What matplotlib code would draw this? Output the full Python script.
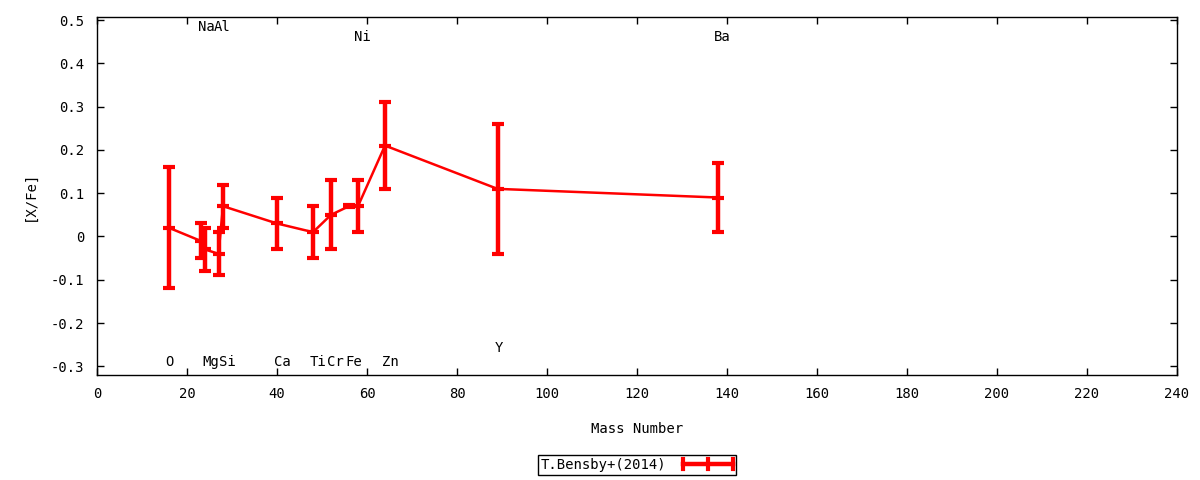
import matplotlib
matplotlib.use("Agg")
from matplotlib import pyplot as plt
from matplotlib.legend_handler import HandlerBase
from matplotlib.lines import Line2D
import numpy as np

plt.rcParams['font.family'] = ['DejaVu Sans Mono']

# data
elements = ['O', 'Na', 'Mg', 'Al', 'Si', 'Ca', 'Ti', 'Cr', 'Fe', 'Ni', 'Zn', 'Y', 'Ba']
mass = [16, 23, 24, 27, 28, 40, 48, 52, 56, 58, 64, 89, 138]
xfe = [0.02, -0.01, -0.03, -0.04, 0.07, 0.03, 0.01, 0.05, 0.07, 0.07, 0.21, 0.11, 0.09]
err = [0.14, 0.04, 0.05, 0.05, 0.05, 0.06, 0.06, 0.08, 0.003, 0.06, 0.10, 0.15, 0.08]
label_y = [-0.29, 0.484, -0.29, 0.484, -0.29, -0.29, -0.29, -0.29, -0.29, 0.461, -0.29, -0.258, 0.461]
label_dx = [0, 1.2, 1.3, 0.9, 1.0, 1.1, 1.1, 1.0, 1.1, 0.9, 1.2, 0.4, 0.9]

yticks = [-0.3, -0.2, -0.1, 0, 0.1, 0.2, 0.3, 0.4, 0.5]
ytick_labels = ['-0.3', '-0.2', '-0.1', '0', '0.1', '0.2', '0.3', '0.4', '0.5']

RED = '#ff0000'
FS = 10


class GnuplotErrHandler(HandlerBase):
    # gnuplot style key sample: thick line with short ticks at ends and middle
    def create_artists(self, legend, orig_handle, xdescent, ydescent,
                       width, height, fontsize, trans):
        y = height / 2 - ydescent
        x0, x1 = -xdescent, width - xdescent
        art = [Line2D([x0, x1], [y, y], color=RED, lw=3.2, transform=trans)]
        for x in (x0, (x0 + x1) / 2, x1):
            art.append(Line2D([x, x], [y - 3.5, y + 3.5], color=RED, lw=3,
                              transform=trans))
        return art


fig = plt.figure(figsize=(12, 4.8), dpi=100)
ax = fig.add_axes([97/1200, 1-375/480, 1080/1200, 358/480])

eb = ax.errorbar(mass, xfe, yerr=err, color=RED, lw=1.8, elinewidth=3.2,
                 capsize=4.5, capthick=3, marker='_', ms=9, mew=3,
                 label='T.Bensby+(2014)')

for el, m, ly, dx in zip(elements, mass, label_y, label_dx):
    ax.text(m + dx, ly, el, ha='center', va='center', fontsize=FS)

ax.set_xlim(0, 240)
ax.set_ylim(-0.32, 0.507)
ax.set_xticks(np.arange(0, 241, 20))
ax.set_yticks(yticks)
ax.set_yticklabels(ytick_labels)
ax.tick_params(direction='in', top=True, right=True, length=5, width=1,
               labelsize=FS, pad=9, colors='black')
for s in ax.spines.values():
    s.set_linewidth(1)

ax.set_xlabel('Mass Number', fontsize=FS, labelpad=15)
ax.set_ylabel('[X/Fe]', fontsize=FS)
ax.yaxis.set_label_coords(-0.0555, 0.5)

leg = ax.legend([eb], ['T.Bensby+(2014)'], handler_map={type(eb): GnuplotErrHandler()},
                loc='center', bbox_to_anchor=(637/1200, 1-465/480),
                bbox_transform=fig.transFigure, markerfirst=False,
                fancybox=False, framealpha=1, edgecolor='black',
                fontsize=FS, borderpad=0.2, handlelength=3.6,
                handletextpad=1.2, borderaxespad=0)
leg.get_frame().set_linewidth(1)

fig.savefig('out.png', dpi=100)
